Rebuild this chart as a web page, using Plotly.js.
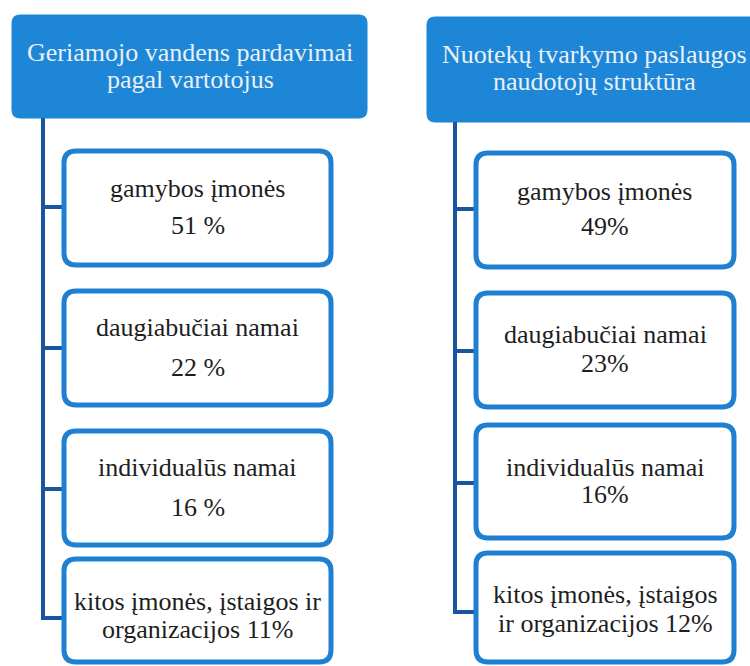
<!DOCTYPE html>
<html>
<head>
<meta charset="utf-8">
<script src="https://cdn.plot.ly/plotly-3.0.1.min.js"></script>
<style>html,body{margin:0;padding:0;background:#fff;}#chart{width:750px;height:666px;}</style>
</head>
<body>
<div id="chart"></div>
<script>
// ---- data ----
const leftTitle = ["Geriamojo vandens pardavimai", "pagal vartotojus"];
const rightTitle = ["Nuotekų tvarkymo paslaugos", "naudotojų struktūra"];
const leftCategories = ["gamybos įmonės", "daugiabučiai namai", "individualūs namai", "kitos įmonės, įstaigos ir|organizacijos"];
const rightCategories = ["gamybos įmonės", "daugiabučiai namai", "individualūs namai", "kitos įmonės, įstaigos|ir organizacijos"];
const leftValues = [51, 22, 16, 11];
const rightValues = [49, 23, 16, 12];
const leftValueLabels = ["51 %", "22 %", "16 %", "11%"];
const rightValueLabels = ["49%", "23%", "16%", "12%"];

// ---- layout config (positions / styles) ----
const FONT = "Liberation Serif, Times New Roman, serif";
const HEADER_FILL = "#1d86d6";
const BOX_LINE = "#1f80d2";
const CONN_LINE = "#1b55a0";
const panels = [
  {title: leftTitle, cats: leftCategories, vals: leftValues, labels: leftValueLabels,
   hx0: 12, hx1: 367, hy0: 15, hy1: 118, titleBase: [61, 88], titleX: 190,
   bx0: 64, bx1: 331, tops: [151, 291, 431, 559], hs: [114, 114, 114, 103],
   vx: 43, conn: [56, 57, 58, 59], gaps: [37, 40, 40, 28]},
  {title: rightTitle, cats: rightCategories, vals: rightValues, labels: rightValueLabels,
   hx0: 427, hx1: 770, hy0: 17, hy1: 122, titleBase: [63, 90], titleX: 594,
   bx0: 476, bx1: 734, tops: [153, 293, 425, 553], hs: [114, 114, 113, 109],
   vx: 455, conn: [56, 58, 58, 59], gaps: [35, 29, 27, 29]}
];

function rr(x0, y0, x1, y1, r) {
  return `M ${x0+r},${y0} L ${x1-r},${y0} Q ${x1},${y0} ${x1},${y0+r} L ${x1},${y1-r} Q ${x1},${y1} ${x1-r},${y1} L ${x0+r},${y1} Q ${x0},${y1} ${x0},${y1-r} L ${x0},${y0+r} Q ${x0},${y0} ${x0+r},${y0} Z`;
}

const shapes = [];
const annotations = [];
const traces = [];

panels.forEach(p => {
  // header
  shapes.push({type: "path", xref: "x", yref: "y", path: rr(p.hx0, p.hy0, p.hx1, p.hy1, 8),
    fillcolor: HEADER_FILL, line: {color: HEADER_FILL, width: 1}, layer: "below"});
  p.title.forEach((t, k) => {
    annotations.push({x: p.titleX, y: p.titleBase[k] - 9, xref: "x", yref: "y",
      text: t, showarrow: false, xanchor: "center", yanchor: "middle",
      font: {family: FONT, size: 26, color: "#eaf0f6"}});
  });
  // connector vertical line
  const lastConn = p.tops[p.tops.length - 1] + p.conn[p.conn.length - 1];
  traces.push({x: [p.vx, p.vx], y: [p.hy1, lastConn], mode: "lines",
    line: {color: CONN_LINE, width: 4}, hoverinfo: "skip", showlegend: false});
  p.cats.forEach((c, i) => {
    const top = p.tops[i], bot = top + p.hs[i];
    const cy = top + p.conn[i];
    traces.push({x: [p.vx - 2, p.bx0], y: [cy, cy], mode: "lines",
      line: {color: CONN_LINE, width: 4}, hoverinfo: "skip", showlegend: false});
    shapes.push({type: "path", xref: "x", yref: "y", path: rr(p.bx0, top, p.bx1, bot, 12),
      fillcolor: "#ffffff", line: {color: BOX_LINE, width: 5}, layer: "above"});
    const parts = c.split("|");
    let lines;
    if (parts.length === 1) lines = [parts[0], p.labels[i]];
    else lines = [parts[0], parts[1] + " " + p.labels[i]];
    const mid = top + 56;
    const g = p.gaps[i];
    lines.forEach((t, k) => {
      annotations.push({x: (p.bx0 + p.bx1) / 2, y: mid + (k === 0 ? -g / 2 : g / 2), xref: "x", yref: "y",
        text: t, showarrow: false, xanchor: "center", yanchor: "middle",
        font: {family: FONT, size: 26, color: "#1e1e1e"}});
    });
  });
});

const layout = {
  width: 750, height: 666,
  margin: {l: 0, r: 0, t: 0, b: 0},
  paper_bgcolor: "#ffffff", plot_bgcolor: "#ffffff",
  xaxis: {range: [0, 750], visible: false, fixedrange: true},
  yaxis: {range: [666, 0], visible: false, fixedrange: true},
  shapes: shapes, annotations: annotations, showlegend: false
};
Plotly.newPlot("chart", traces, layout, {displayModeBar: false, staticPlot: true});
</script>
</body>
</html>
